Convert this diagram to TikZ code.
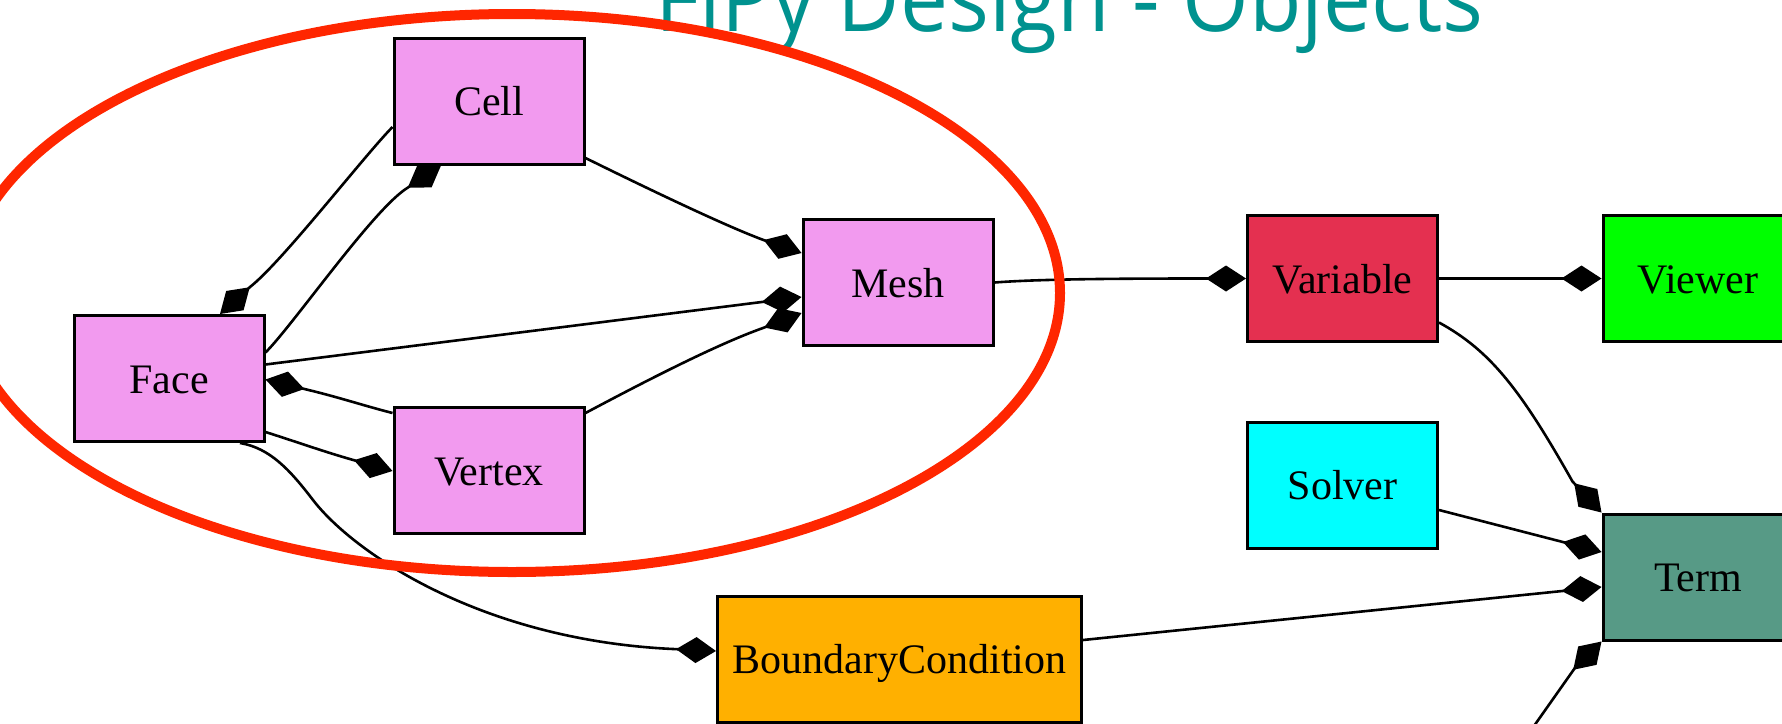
\documentclass[tikz,border=0pt]{standalone}
\usepackage{fontspec}
\usepackage{graphicx}
\setmainfont{Liberation Serif}
\newfontfamily\titlefont{Open Sans}
\usetikzlibrary{arrows.meta,calc}

\definecolor{classpink}{RGB}{242,154,239}
\definecolor{varred}{RGB}{228,48,80}
\definecolor{viewgreen}{RGB}{0,255,0}
\definecolor{solvcyan}{RGB}{0,255,255}
\definecolor{termgreen}{RGB}{87,154,134}
\definecolor{bcorange}{RGB}{255,176,0}
\definecolor{titleteal}{RGB}{0,146,143}
\definecolor{ringred}{RGB}{255,38,0}

\tikzset{
  objbox/.style={draw=black, line width=3pt, rectangle, minimum width=190pt,
    minimum height=126pt, inner sep=0pt, text height=29pt, text depth=0pt,
    font=\fontsize{42}{50}\selectfont},
  link/.style={line width=2.6pt, black, -{Diamond[length=40pt,width=26pt]}}
}

\begin{document}
\begin{tikzpicture}[x=1pt,y=-1pt]
\clip (0,0) rectangle (1782,723);

% heading
\node[anchor=base west, inner sep=0pt, text=titleteal] (title) at (655,31)
  {\resizebox{828pt}{\height}{\titlefont\fontsize{92}{92}\selectfont FiPy Design - Objects}};

% classes
\node[objbox, fill=classpink] (Face) at (169,378.5) {Face};
\node[objbox, fill=classpink] (Cell) at (489,101) {Cell};
\node[objbox, fill=classpink] (Vertex) at (489,470.5) {Vertex};
\node[objbox, fill=classpink] (Mesh) at (898,282.5) {Mesh};
\node[objbox, fill=bcorange, minimum width=364pt] (BC) at (899.5,659) {BoundaryCondition};
\node[objbox, fill=varred] (Variable) at (1342.5,278.5) {Variable};
\node[objbox, fill=viewgreen] (Viewer) at (1698,278.5) {Viewer};
\node[objbox, fill=solvcyan] (Solver) at (1342.5,485) {Solver};
\node[objbox, fill=termgreen] (Term) at (1698,577) {Term};
\coordinate (lowsrc) at (1510,760);

% compositions
\draw[link] ($(Cell.west)+(0,26)$) .. controls (364,156) and (282,262) ..
  ($(Face.north)+(81,-27)$) -- ($(Face.north)+(51,0)$);
\draw[link] ($(Face.east)+(0,-26)$) .. controls (294,324) and (374,208) ..
  ($(Cell.south)+(-81,22)$) -- ($(Cell.south)+(-48,0)$);
\draw[link] ($(Cell.east)+(0,57)$) .. controls (622,176) and (720,224) ..
  ($(Mesh.west)+(-38,-42.5)$) -- ($(Mesh.west)+(0,-29.5)$);
\draw[link] ($(Face.east)+(0,-14)$) -- ($(Mesh.west)+(0,14.5)$);
\draw[link] ($(Vertex.east)+(0,-57.5)$) .. controls (640,384) and (715,345) ..
  ($(Mesh.west)+(-38.5,45.5)$) -- ($(Mesh.west)+(0,30.5)$);
\draw[link] ($(Vertex.west)+(0,-57.5)$) .. controls (365,406) and (338,397) ..
  ($(Face.east)+(41,11)$) -- ($(Face.east)+(0,1)$);
\draw[link] ($(Face.east)+(0,53.5)$) .. controls (300,443) and (322,451) ..
  ($(Vertex.west)+(-41,-11)$) -- ($(Vertex.west)+(0,0.5)$);
\draw[link] ($(Face.south)+(71,0)$) .. controls (270,448) and (290,470) .. (313,500)
  .. controls (353,552) and (480,640) .. ($(BC.west)+(-43,-10)$) -- ($(BC.west)+(0,-8)$);
\draw[link] (Mesh.east) .. controls (1040,279) and (1120,278.5) .. (Variable.west);
\draw[link] (Variable.east) -- (Viewer.west);
\draw[link] ($(Variable.east)+(0,44)$) .. controls (1490,350.5) and (1520,388.5) ..
  ($(Term.north west)+(-29,-31)$) -- (Term.north west);
\draw[link] ($(Solver.east)+(0,25)$) -- ($(Term.west)+(0,-25)$);
\draw[link] ($(BC.east)+(0,-19)$) -- ($(Term.west)+(0,10)$);
\draw[link] (lowsrc) -- ($(Term.south west)+(-27,27)$) -- (Term.south west);

% highlight ring round the mesh classes
\draw[ringred, line width=10pt] (512,293) ellipse [x radius=548, y radius=279];
\end{tikzpicture}
\end{document}
